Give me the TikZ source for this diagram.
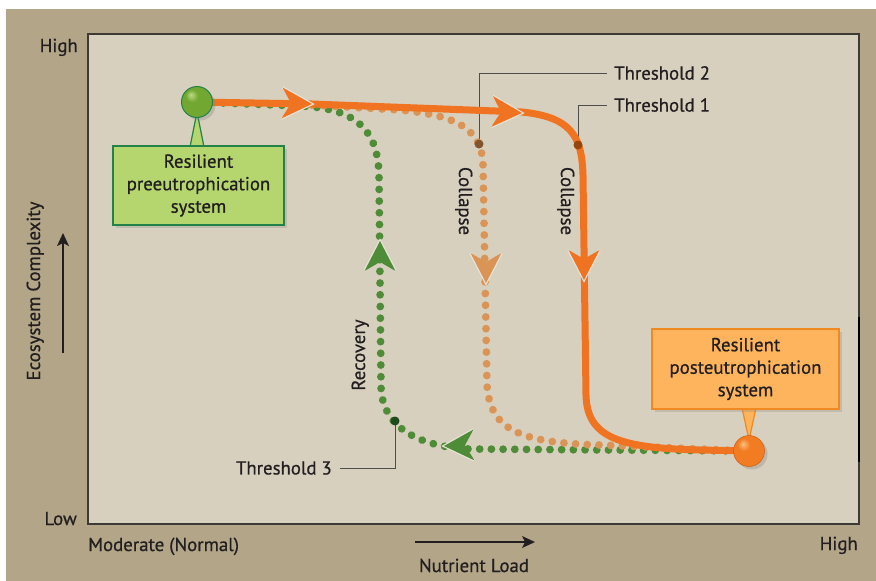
\documentclass[tikz,border=0pt]{standalone}
\usepackage{fontspec}
\setmainfont{PT Sans}[FakeBold=0.7]
\usetikzlibrary{shadows}
\definecolor{tanbg}{HTML}{B3A587}
\definecolor{plotbg}{HTML}{D8D0BE}
\definecolor{frame}{HTML}{3D3A36}
\definecolor{omain}{HTML}{F07322}
\definecolor{odot}{HTML}{D99456}
\definecolor{gdot}{HTML}{4E8C38}
\definecolor{gfill}{HTML}{B5D66E}
\definecolor{gedge}{HTML}{23824A}
\definecolor{ofill}{HTML}{FDB45C}
\definecolor{oedge}{HTML}{F0891F}
\definecolor{txt}{HTML}{231F20}
\definecolor{thA}{HTML}{96460A}
\definecolor{thB}{HTML}{82552D}
\definecolor{thC}{HTML}{1E4B1E}
\definecolor{gA}{HTML}{C0DA84}
\definecolor{gB}{HTML}{72A832}
\definecolor{gC}{HTML}{4E8A22}
\definecolor{oA}{HTML}{FFC080}
\definecolor{oB}{HTML}{F27C22}
\definecolor{oC}{HTML}{D05A10}
\pgfdeclareradialshading{gballsh}{\pgfpoint{-10bp}{12bp}}{color(0bp)=(gA); color(10bp)=(gB); color(38bp)=(gB); color(50bp)=(gC); color(60bp)=(gC)}
\pgfdeclareradialshading{oballsh}{\pgfpoint{-10bp}{12bp}}{color(0bp)=(oA); color(10bp)=(oB); color(38bp)=(oB); color(50bp)=(oC); color(60bp)=(oC)}
\begin{document}
\begin{tikzpicture}[x=1pt,y=-1pt,
  lab/.style={text=txt,font=\fontsize{18.8}{22}\selectfont,inner sep=0pt},
  leader/.style={draw=frame!90,line width=1pt},
  mainline/.style={draw=omain,line width=7pt},
  dotline/.style={line width=7.8pt,line cap=round,dash pattern=on 0.01pt off 11.7pt},
  callout/.style={text=txt,font=\fontsize{18.8}{22.5}\selectfont,align=center,line width=1.2pt,
    drop shadow={opacity=0.25,shadow xshift=3pt,shadow yshift=-3pt}},
  thdot/.style={circle,inner sep=0pt,minimum size=9pt},
  ballst/.style={circle,minimum size=31pt,inner sep=0pt,
    drop shadow={opacity=0.3,shadow xshift=3pt,shadow yshift=-3pt}},
  bigarr/.pic={\draw[plotbg!60!white,line width=2.5pt,line join=miter] (-30,-15.5) -- (0,0) -- (-30,15.5);
    \fill[pic actions] (0,0) -- (-30,-15.5) -- (-21,0) -- (-30,15.5) -- cycle;}
]
\useasboundingbox (0,0) rectangle (876,581);
% backgrounds
\fill[white] (0,0) rectangle (876,581);
\fill[tanbg] (6,9) rectangle (876,581);
\draw[fill=plotbg,draw=frame,line width=1.5pt] (88,34) rectangle (859,524);
\draw[black,line width=2pt] (859,317) -- (859,462);

% key coordinates
\coordinate (gc) at (197,102);
\coordinate (oc) at (749,451);
\coordinate (th1) at (578,145);
\coordinate (th2) at (479,144);
\coordinate (th3) at (395,421);

% labels for thresholds
\node[lab,anchor=west,inner xsep=7pt] (t2) at (607,73) {Threshold 2};
\node[lab,anchor=west,inner xsep=7pt] (t1) at (607,105) {Threshold 1};
\node[lab,anchor=east,inner xsep=8pt] (t3) at (340,468) {Threshold 3};
\draw[leader] (th2) |- (t2.west);
\draw[leader] (th1) |- (t1.west);
\draw[leader] (th3) |- (t3.east);

% green recovery path
\draw[gdot,dotline] (oc) -- (470,449) .. controls (420,447) and (381,428) .. (381,385)
  -- (379,175) .. controls (378,125) and (350,108) .. (300,106) -- (gc);
% orange dotted collapse path
\draw[odot,dotline] (312,105) -- (400,110) .. controls (450,115) and (482,125) .. (483,165)
  -- (487,385) .. controls (490,430) and (520,443) .. (600,445) -- (oc);
% main orange path
\draw[mainline] (gc) -- (312,104) -- (522,112) .. controls (570,117) and (582,135) .. (583,175)
  -- (586,395) .. controls (587,438) and (620,448) .. (700,450) -- (oc);

% arrowheads
\pic[fill=omain,rotate=-2] at (312,104) {bigarr};
\pic[fill=omain,rotate=-3] at (522,113) {bigarr};
\pic[fill=omain,rotate=-90] at (584,280) {bigarr};
\pic[fill=odot,rotate=-90] at (486,283) {bigarr};
\pic[fill=gdot,rotate=90] at (380,241) {bigarr};
\pic[fill=gdot,rotate=182] at (444,446) {bigarr};

% threshold dots
\node[thdot,fill=thA] (d1) at (th1) {};
\node[thdot,fill=thB] (d2) at (th2) {};
\node[thdot,fill=thC] (d3) at (th3) {};

% callouts
\filldraw[fill=gfill,draw=gedge,line width=1.2pt] (190,147) -- (197,112) -- (204,147) -- cycle;
\node[callout,draw=gedge,fill=gfill,minimum width=171pt,minimum height=79pt] (gbox) at (198.5,185.5)
  {Resilient\\preeutrophication\\system};
\filldraw[fill=ofill,draw=oedge,line width=1.2pt] (742,408) -- (749,440) -- (756,408) -- cycle;
\node[callout,draw=oedge,fill=ofill,minimum width=187pt,minimum height=80pt] (obox) at (745.5,369)
  {Resilient\\posteutrophication\\system};

% balls
\node[ballst,shading=gballsh,draw=gedge,line width=1pt] (gb) at (gc) {};
\node[ballst,shading=oballsh,draw=oC,line width=0.5pt] (ob) at (oc) {};

% path labels
\node[lab,rotate=-90,anchor=base] (c2) at (459,201) {Collapse};
\node[lab,rotate=-90,anchor=base] (c1) at (561,201) {Collapse};
\node[lab,rotate=90,anchor=base] (rec) at (365,355) {Recovery};

% axes
\node[lab,anchor=base east] (hy) at (78,52) {High};
\node[lab,anchor=base east] (ly) at (77,525) {Low};
\node[lab,anchor=base west] (mx) at (88,551) {Moderate (Normal)};
\node[lab,anchor=base east] (hx) at (858,550) {High};
\node[lab,anchor=base] (nl) at (474,572) {Nutrient Load};
\node[lab,rotate=90,anchor=base] (ec) at (40,291) {Ecosystem Complexity};
\coordinate (xa0) at (415,542);
\coordinate (xa1) at (535,542);
\coordinate (ya0) at (63,353);
\coordinate (ya1) at (63,233);
\draw[txt,line width=2.5pt] (xa0) -- (525,542);
\fill[txt] (xa1) -- (522,536) -- (525,542) -- (522,548) -- cycle;
\draw[txt,line width=2.5pt] (ya0) -- (63,243);
\fill[txt] (ya1) -- (57,246) -- (63,243) -- (69,246) -- cycle;
\end{tikzpicture}
\end{document}
